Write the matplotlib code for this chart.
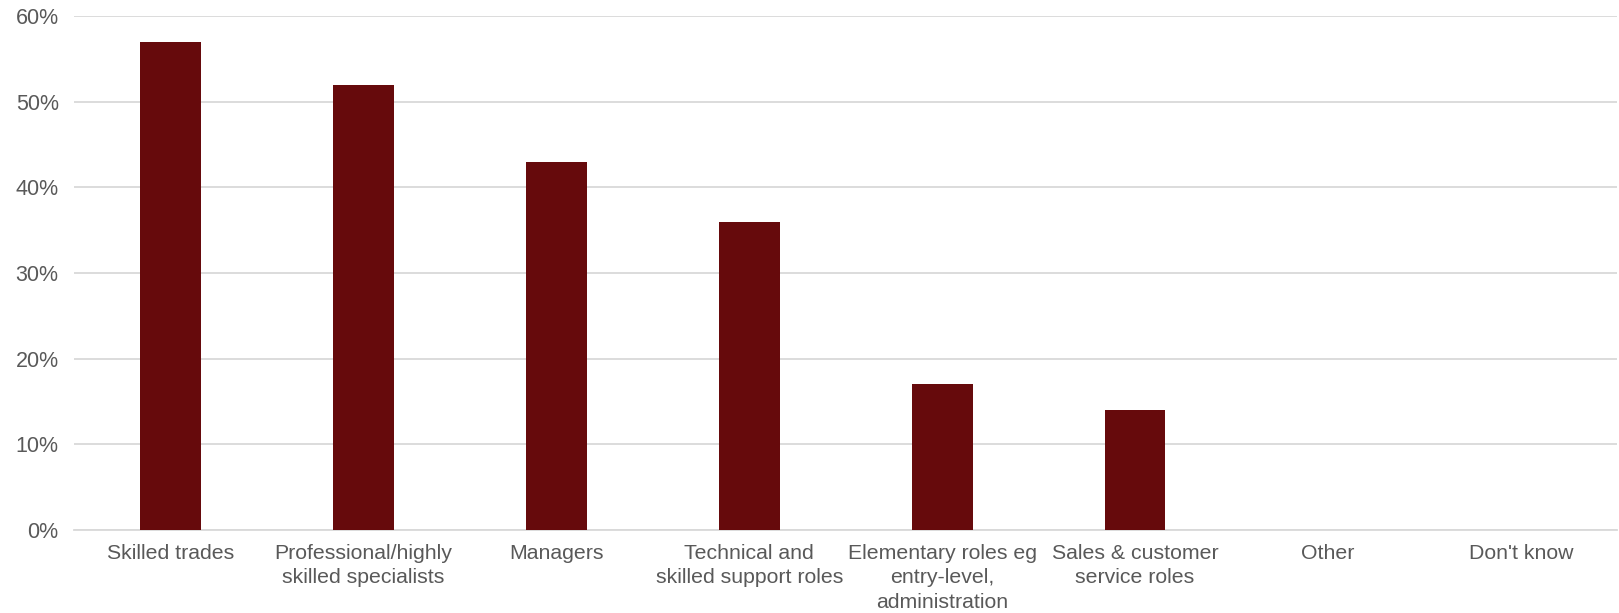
import matplotlib
matplotlib.use("Agg")
import matplotlib.pyplot as plt
from matplotlib.ticker import PercentFormatter

categories = ["Skilled trades", "Professional/highly\nskilled specialists", "Managers",
              "Technical and\nskilled support roles", "Elementary roles eg\nentry-level,\nadministration",
              "Sales & customer\nservice roles", "Other", "Don't know"]
values = [57, 52, 43, 36, 17, 14, 0, 0]

plt.rcParams['font.family'] = ['Liberation Sans', 'DejaVu Sans']
fig = plt.figure(figsize=(16.19, 6.13), dpi=100)
ax = fig.add_axes([74/1619, 1-530/613, 1-74/1619-0.001, (530-16)/613])

x = range(len(categories))
ax.bar(x, values, width=0.315, color="#660a0c", zorder=3)
ax.set_xlim(-0.5, len(categories)-0.5)
ax.set_ylim(0, 60)
ax.set_yticks(range(0, 61, 10))
ax.yaxis.set_major_formatter(PercentFormatter(decimals=0))
ax.set_xticks(list(x))
ax.set_xticklabels(categories, fontsize=15.3, color="#595959", linespacing=1.36)
ax.tick_params(axis='y', labelsize=15.5, labelcolor="#595959", length=0, pad=11)
ax.tick_params(axis='x', length=0, pad=10)
ax.grid(axis='y', color="#d9d9d9", linewidth=1.3, zorder=0)
for s in ["top", "right", "left"]:
    ax.spines[s].set_visible(False)
ax.spines["bottom"].set_color("#d9d9d9")
ax.spines["bottom"].set_linewidth(1.3)
fig.savefig("out.png", dpi=100)
